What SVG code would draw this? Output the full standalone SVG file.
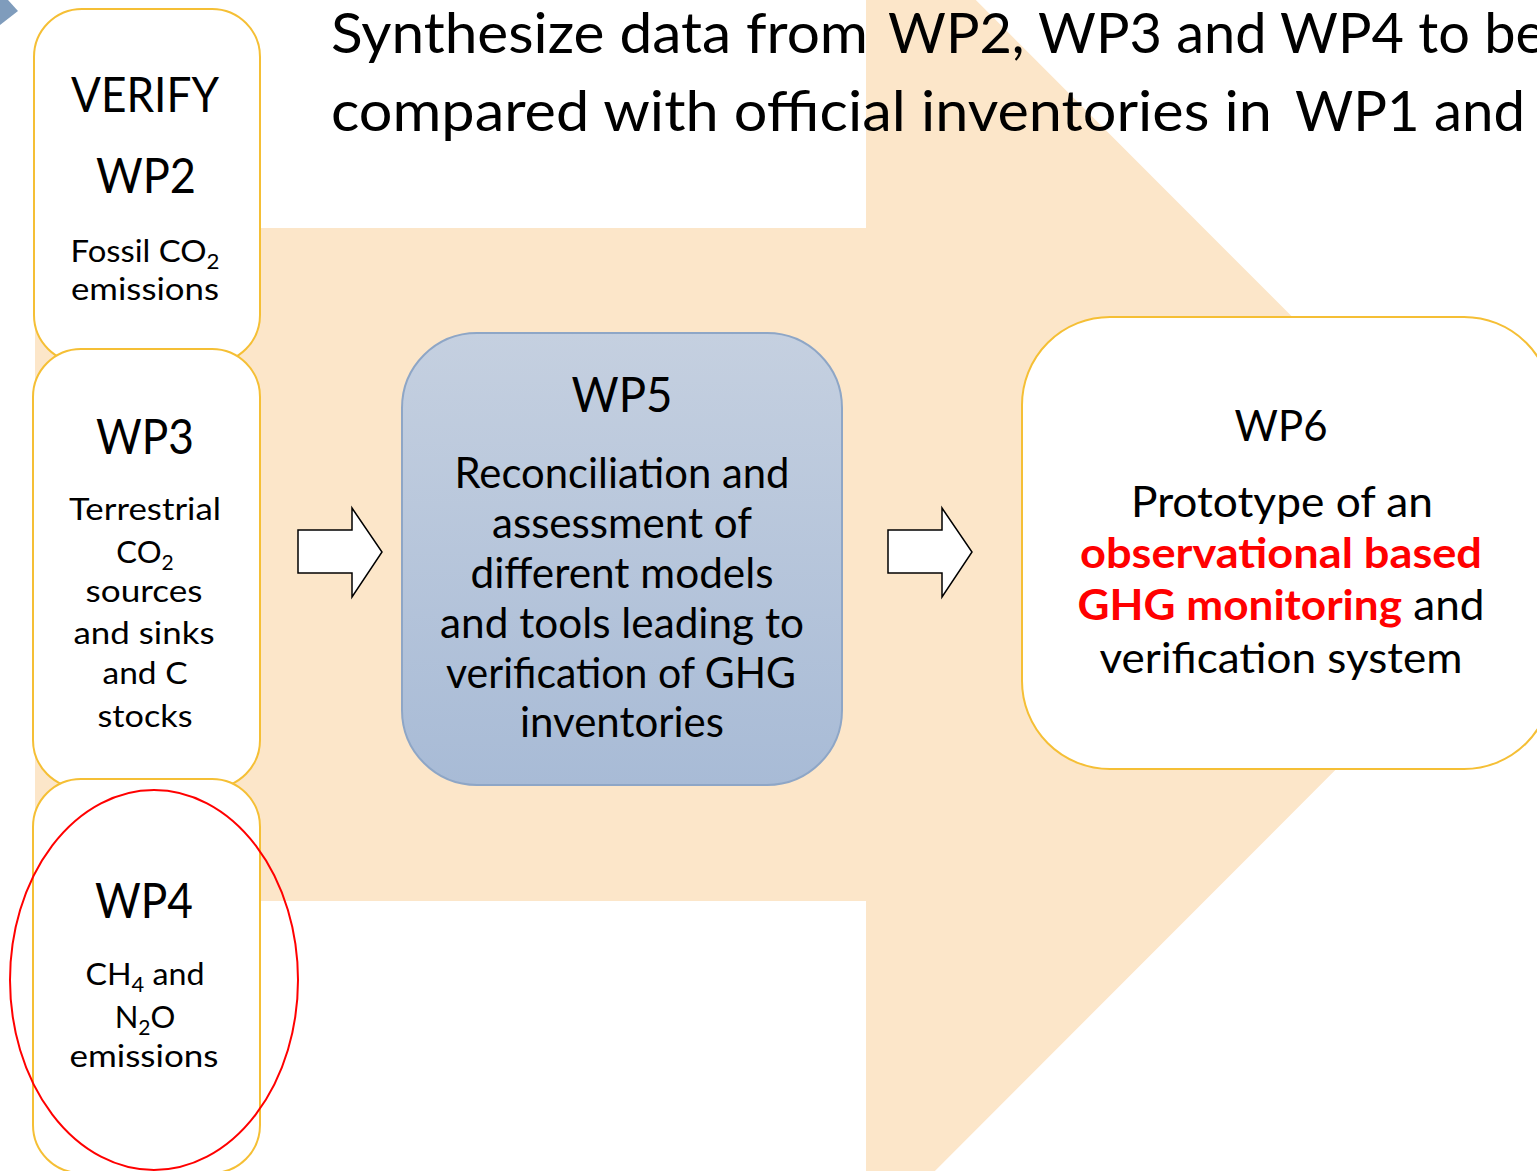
<svg xmlns="http://www.w3.org/2000/svg" width="1537" height="1171" viewBox="0 0 1537 1171">
  <style>
    text { font-family: Lato, "Open Sans", "Liberation Sans", sans-serif; fill: #000; text-anchor: middle; }
    .title { font-size: 57px; text-anchor: start; }
    .box { fill: #ffffff; stroke: #f5bf35; stroke-width: 2; }
    .head { font-size: 48px; }
    .body { font-size: 31px; }
    .wp5t { font-size: 42px; }
    .wp6t { font-size: 42px; }
    .red { fill: #ff0000; font-weight: bold; }
    .sub { font-size: 21px; }
    .flow { fill: #ffffff; stroke: #000; stroke-width: 1.5; stroke-linejoin: miter; }
  </style>
  <defs>
    <linearGradient id="wp5fill" x1="0" y1="0" x2="0" y2="1">
      <stop offset="0" stop-color="#c5d0e0"/>
      <stop offset="1" stop-color="#a8bbd6"/>
    </linearGradient>
  </defs>

  <rect width="1537" height="1171" fill="#ffffff"/>

  <!-- large background arrow -->
  <polygon points="35,228 866,228 866,-110 1540,565 866,1240 866,901 35,901" fill="#fce6c9"/>

  <!-- corner chevron -->
  <polygon points="0,0 8,0 18,11 0,25" fill="#7f9cbc"/>

  <!-- title -->
  <text class="title" x="331" y="53" textLength="537" lengthAdjust="spacingAndGlyphs">Synthesize data from</text>
  <text class="title" x="888" y="53" textLength="657" lengthAdjust="spacingAndGlyphs">WP2, WP3 and WP4 to be</text>
  <text class="title" x="331" y="131" textLength="941" lengthAdjust="spacingAndGlyphs">compared with official inventories in</text>
  <text class="title" x="1295" y="131" textLength="230" lengthAdjust="spacingAndGlyphs">WP1 and</text>

  <g id="wp2">
    <rect class="box" x="34" y="9" width="226" height="354" rx="48"/>
    <text class="head" x="145" y="112" textLength="148" lengthAdjust="spacingAndGlyphs">VERIFY</text>
    <text class="head" x="146" y="193" textLength="100" lengthAdjust="spacingAndGlyphs">WP2</text>
    <text class="body" x="145" y="262" textLength="149" lengthAdjust="spacingAndGlyphs">Fossil CO<tspan class="sub" dy="7">2</tspan></text>
    <text class="body" x="145" y="300" textLength="148" lengthAdjust="spacingAndGlyphs">emissions</text>
  </g>

  <g id="wp3">
    <rect class="box" x="33" y="349" width="227" height="439" rx="48"/>
    <text class="head" x="145" y="454" textLength="98" lengthAdjust="spacingAndGlyphs">WP3</text>
    <text class="body" x="145" y="520" textLength="152" lengthAdjust="spacingAndGlyphs">Terrestrial</text>
    <text class="body" x="145" y="563">CO<tspan class="sub" dy="7">2</tspan></text>
    <text class="body" x="144" y="602" textLength="117" lengthAdjust="spacingAndGlyphs">sources</text>
    <text class="body" x="144" y="644" textLength="141" lengthAdjust="spacingAndGlyphs">and sinks</text>
    <text class="body" x="145" y="684" textLength="85" lengthAdjust="spacingAndGlyphs">and C</text>
    <text class="body" x="145" y="727" textLength="95" lengthAdjust="spacingAndGlyphs">stocks</text>
  </g>

  <g id="wp4">
    <rect class="box" x="33" y="779" width="227" height="394" rx="48"/>
    <text class="head" x="144" y="918" textLength="98" lengthAdjust="spacingAndGlyphs">WP4</text>
    <text class="body" x="145" y="985" textLength="119" lengthAdjust="spacingAndGlyphs">CH<tspan class="sub" dy="7">4</tspan><tspan dy="-7"> and</tspan></text>
    <text class="body" x="145" y="1028">N<tspan class="sub" dy="7">2</tspan><tspan dy="-7">O</tspan></text>
    <text class="body" x="144" y="1067" textLength="149" lengthAdjust="spacingAndGlyphs">emissions</text>
    <!-- highlight ring -->
    <ellipse cx="154" cy="980" rx="144" ry="190" fill="none" stroke="#ff0000" stroke-width="2"/>
  </g>

  <g id="wp5">
    <rect x="402" y="333" width="440" height="452" rx="75" fill="url(#wp5fill)" stroke="#8ea6c6" stroke-width="2"/>
    <text class="head" x="622" y="412" textLength="101" lengthAdjust="spacingAndGlyphs">WP5</text>
    <text class="wp5t" x="622" y="488" textLength="335" lengthAdjust="spacingAndGlyphs">Reconciliation and</text>
    <text class="wp5t" x="622" y="538" textLength="260" lengthAdjust="spacingAndGlyphs">assessment of</text>
    <text class="wp5t" x="622" y="588" textLength="303" lengthAdjust="spacingAndGlyphs">different models</text>
    <text class="wp5t" x="622" y="638" textLength="364" lengthAdjust="spacingAndGlyphs">and tools leading to</text>
    <text class="wp5t" x="621" y="688" textLength="350" lengthAdjust="spacingAndGlyphs">verification of GHG</text>
    <text class="wp5t" x="622" y="737" textLength="204" lengthAdjust="spacingAndGlyphs">inventories</text>
  </g>

  <g id="wp6">
    <rect class="box" x="1022" y="317" width="530" height="452" rx="88"/>
    <text class="wp6t" x="1281" y="441" textLength="93" lengthAdjust="spacingAndGlyphs">WP6</text>
    <text class="wp6t" x="1282" y="517" textLength="302" lengthAdjust="spacingAndGlyphs">Prototype of an</text>
    <text class="wp6t red" x="1281" y="568" textLength="402" lengthAdjust="spacingAndGlyphs">observational based</text>
    <text class="wp6t" x="1281" y="620" textLength="407" lengthAdjust="spacingAndGlyphs"><tspan class="red">GHG monitoring</tspan> and</text>
    <text class="wp6t" x="1281" y="673" textLength="363" lengthAdjust="spacingAndGlyphs">verification system</text>
  </g>

  <g id="connectors">
    <polygon class="flow" points="298,530 352,530 352,508 382,552 352,597 352,573 298,573"/>
    <polygon class="flow" points="888,530 942,530 942,508 972,552 942,597 942,573 888,573"/>
  </g>
</svg>
